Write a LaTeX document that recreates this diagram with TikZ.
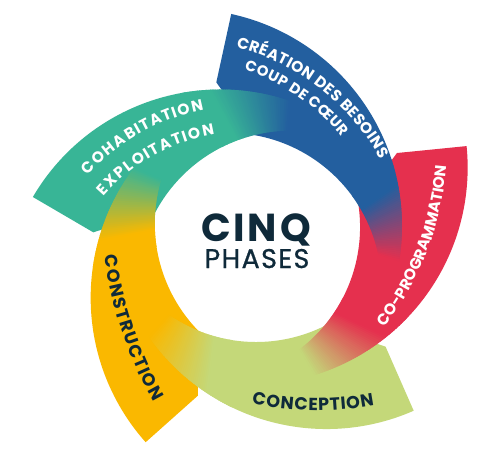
\documentclass[tikz,border=0pt]{standalone}
\usepackage{fontspec}
\setmainfont{Poppins}
\usetikzlibrary{decorations.text}
\definecolor{cblue}{HTML}{235F9F}
\definecolor{cred}{HTML}{E5304E}
\definecolor{clgreen}{HTML}{C4D879}
\definecolor{cyellow}{HTML}{FAB800}
\definecolor{cgreen}{HTML}{38B596}
\definecolor{cnavy}{HTML}{0F2A3A}

\def\Ox{258}\def\Oy{242}
\def\Cox{185}\def\Coy{226}\def\Ro{217}
\def\Cix{227.8}\def\Ciy{286.8}\def\Ri{154}
\def\Pang{-77.7}\def\Rq{147}

\newcommand{\phimap}[2]{\pgfmathsetmacro{#1}{-36+0.876*(#2+18)}}

\newcommand{\bandbody}[3]{%
  \begin{scope}[rotate around={-#1:(\Ox,\Oy)}]
    \pgfmathsetmacro{\te}{#3+0.6}
    \phimap{\pe}{\te}
    \fill[#2] plot[domain=\Pang:\te, samples=90, variable=\a]
        ({\Cox+\Ro*cos(\a)},{\Coy+\Ro*sin(\a)})
      -- plot[domain=\pe:-80.1, samples=60, variable=\a]
        ({\Cix+\Ri*cos(\a)},{\Ciy+\Ri*sin(\a)})
      -- ({\Cox+\Rq*cos(\Pang)},{\Coy+\Rq*sin(\Pang)}) -- cycle;
  \end{scope}}

\newcommand{\bandtail}[5]{%
  \begin{scope}[rotate around={-#1:(\Ox,\Oy)}]
    \foreach \i in {0,...,47}{
      \pgfmathsetmacro{\ta}{#4+(#5-#4)*\i/48}
      \pgfmathsetmacro{\tb}{#4+(#5-#4)*min(\i+1.7,48)/48}
      \phimap{\pa}{\ta}\phimap{\pb}{\tb}
      \pgfmathtruncatemacro{\pc}{round(100*(1-max(0,min(1,((\i+0.5)/48-0.25)/0.75))))}
      \fill[#2!\pc!#3] ({\Cox+\Ro*cos(\ta)},{\Coy+\Ro*sin(\ta)})
        -- ({\Cox+\Ro*cos(\tb)},{\Coy+\Ro*sin(\tb)})
        -- ({\Cix+\Ri*cos(\pb)},{\Ciy+\Ri*sin(\pb)})
        -- ({\Cix+\Ri*cos(\pa)},{\Ciy+\Ri*sin(\pa)}) -- cycle;
    }
  \end{scope}}

\tikzset{
  lbl/.style n args={3}{decorate, decoration={text effects along path, text={#3},
     text effects/.cd, text along path, fit text to path,
     characters={text=#1, font=\fontsize{#2}{#2}\selectfont\bfseries, inner sep=0pt}}},
}
% arc path helper: centre x, centre y, radius, start, end
\newcommand{\arcpath}[5]{plot[domain=#4:#5, samples=120, variable=\a] ({#1+#3*cos(\a)},{#2+#3*sin(\a)})}

\begin{document}
\begin{tikzpicture}[x=1pt,y=-1pt]
\fill[white] (0,0) rectangle (500,455);
\useasboundingbox (0,0) rectangle (500,455);

% bodies
\bandbody{0}{cblue}{-18}
\bandbody{72}{cred}{-28}
\bandbody{144}{clgreen}{-28}
\bandbody{216}{cyellow}{-28}
\bandbody{288}{cgreen}{-28}
% tails
\bandtail{0}{cblue}{cred}{-18}{9.4}
\bandtail{72}{cred}{clgreen}{-28}{1}
\bandtail{144}{clgreen}{cyellow}{-28}{1}
\bandtail{216}{cyellow}{cgreen}{-28}{1}
\bandtail{288}{cgreen}{cblue}{-28}{1}

% labels
\path[lbl={white}{15.5}{CRÉATION DES BESOINS}] \arcpath{177}{272}{232.5}{-75.3}{-29};
\path[lbl={white}{14.8}{COUP DE CŒUR}] \arcpath{177}{272}{213}{-71.6}{-39.3};
\path[lbl={white}{15.5}{CO-PROGRAMMATION}] \arcpath{141}{141}{306.7}{37.4}{4.6};
\path[lbl={cnavy}{17.5}{CONCEPTION}] \arcpath{318.3}{108.2}{302.5}{102.75}{79.3};
\path[lbl={cnavy}{17.5}{CONSTRUCTION}] \arcpath{508.7}{202}{407.6}{172.4}{150.6};
\path[lbl={white}{15.5}{COHABITATION}] \arcpath{246}{320}{214.5}{-137.6}{-101.3};
\path[lbl={white}{15.5}{EXPLOITATION}] \arcpath{246}{320}{188.5}{-139}{-99.5};

% centre
\node[font=\fontsize{39}{39}\selectfont\bfseries\addfontfeature{LetterSpace=7}, text=cnavy, anchor=base, inner sep=0] (cinq) at (256,241) {CINQ};
\node[font=\fontsize{27}{27}\selectfont\addfontfeature{LetterSpace=5,FakeBold=0.7}, text=cnavy, anchor=base, inner sep=0] (phases) at (257,268) {PHASES};
\end{tikzpicture}
\end{document}
